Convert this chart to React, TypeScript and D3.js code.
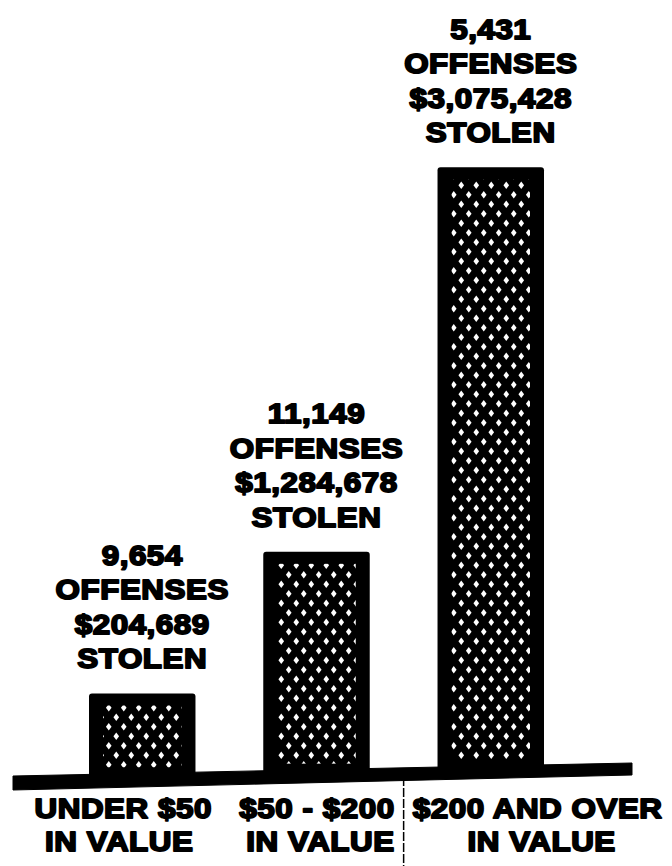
import React from 'react';
import * as d3 from 'd3';

// ---- data ----
const categoryKeys = ['under50', '50to200', 'over200'];
const categoryLine1 = ['UNDER $50', '$50 - $200', '$200 AND OVER'];
const categoryLine2 = ['IN VALUE', 'IN VALUE', 'IN VALUE'];
const offenses = [9654, 11149, 5431];
const stolen = [204689, 1284678, 3075428];
// drawn bar height, as % of the tallest bar (the original art is not to scale)
const barLevel = [13.3, 36.3, 99.8];

const W = 672;
const H = 866;

export default function App() {
  const fmt = d3.format(',');
  const x = d3.scaleBand<string>().domain(categoryKeys).range([89, 544]).paddingInner(0.389).paddingOuter(0);
  const bw = x.bandwidth();
  const h = d3.scaleLinear().domain([0, 100]).range([0, 600]);

  // slightly tilted baseline
  const baseX0 = 13;
  const baseX1 = 632;
  const baseTopAt = d3.scaleLinear().domain([baseX0, baseX1]).range([776, 763]);
  const baseThick = 13;

  const font = "'Liberation Sans', Arial, Helvetica, sans-serif";
  const sx = 1.1;
  const lineGap = 34.5;
  const labelGap = 25;

  const divider = ((x(categoryKeys[1]) as number) + bw + (x(categoryKeys[2]) as number)) / 2;

  const catLabelX = [
    (x(categoryKeys[0]) as number) + bw / 2 - 19,
    divider - 9,
    divider + 134,
  ];
  const catAnchor = ['middle', 'end', 'middle'];

  const T = (key: string, tx: number, ty: number, s: string, anchor: string = 'middle') => (
    <text
      key={key}
      transform={`translate(${tx},${ty}) scale(${sx},1)`}
      textAnchor={anchor}
      fontFamily={font}
      fontWeight="bold"
      fontSize={28.5}
      letterSpacing={0.5}
      fill="#000"
      stroke="#000"
      strokeWidth={1.9}
      strokeLinejoin="round"
    >
      {s}
    </text>
  );

  return (
    <svg width={W} height={H} viewBox={`0 0 ${W} ${H}`} style={{ position: 'absolute', left: 0, top: 0, background: '#fff' }}>
      <defs>
        <pattern id="hatch" width={15} height={19} patternUnits="userSpaceOnUse">
          <rect width={15} height={19} fill="#000" />
          <path d="M3.75,0.9 L6.55,4.75 L3.75,8.6 L0.95,4.75 Z" fill="#fff" />
          <path d="M11.25,10.4 L14.05,14.25 L11.25,18.1 L8.45,14.25 Z" fill="#fff" />
        </pattern>
      </defs>
      <rect width={W} height={H} fill="#fff" />

      {categoryKeys.map((k, i) => {
        const x0 = x(k) as number;
        const cx = x0 + bw / 2;
        const base = baseTopAt(cx);
        const top = base - h(barLevel[i]);
        const lines = [fmt(offenses[i]), 'OFFENSES', '$' + fmt(stolen[i]), 'STOLEN'];
        const lastBaseline = top - labelGap;
        return (
          <g key={k}>
            <rect x={x0} y={top} width={bw} height={base - top + 8} rx={3} fill="#000" />
            <rect x={x0 + 14} y={top + 12} width={bw - 28} height={base - top - 18} fill="url(#hatch)" />
            {lines.map((s, j) => T(`${k}-l${j}`, cx, lastBaseline - (3 - j) * lineGap, s))}
          </g>
        );
      })}

      <polygon
        points={`${baseX0},${baseTopAt(baseX0)} ${baseX1},${baseTopAt(baseX1)} ${baseX1},${baseTopAt(baseX1) + baseThick - 1} ${baseX0},${baseTopAt(baseX0) + baseThick + 1}`}
        fill="#000"
        stroke="#000"
        strokeWidth={1}
        strokeLinejoin="round"
      />

      <line x1={divider} x2={divider} y1={777} y2={H} stroke="#000" strokeWidth={1.5} strokeDasharray="9 2" />

      {categoryKeys.map((k, i) => (
        <g key={`cat-${k}`}>
          {T(`c1-${k}`, catLabelX[i], 818, categoryLine1[i], catAnchor[i])}
          {T(`c2-${k}`, catLabelX[i] + (i === 0 ? -4 : i === 2 ? 4 : 0), 851, categoryLine2[i], catAnchor[i])}
        </g>
      ))}
    </svg>
  );
}
